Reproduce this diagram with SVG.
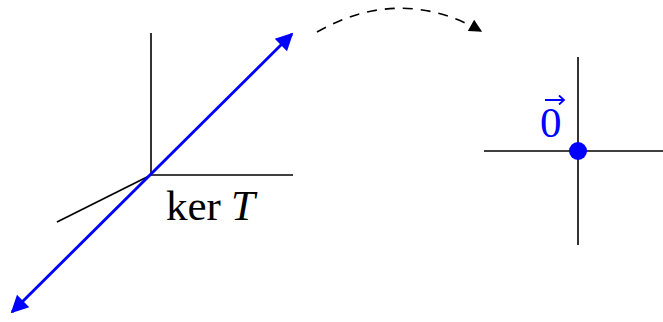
<svg xmlns="http://www.w3.org/2000/svg" width="663" height="322" viewBox="0 0 663 322">
<style>
.ax{stroke:#000;stroke-width:1.6;fill:none}
.blue{stroke:#0000ff;stroke-width:2.9;fill:none}
.lbl{font-family:"Liberation Serif","DejaVu Serif",serif;font-size:43px}
</style>
<defs>
<marker id="bh" viewBox="0 0 10 10" refX="9" refY="5" markerWidth="7.2" markerHeight="6" markerUnits="strokeWidth" orient="auto-start-reverse">
<path d="M0,0 L10,5 L0,10 Z" fill="#0000ff"/>
</marker>
<marker id="kh" viewBox="0 0 10 10" refX="9" refY="5" markerWidth="10" markerHeight="8" markerUnits="strokeWidth" orient="auto">
<path d="M0,0 L10,5 L0,10 Z" fill="#000"/>
</marker>
</defs>
<g id="domain">
<line class="ax" x1="151" y1="33" x2="151" y2="175"/>
<line class="ax" x1="151" y1="175" x2="293" y2="175"/>
<line class="ax" x1="57" y1="222" x2="151" y2="175"/>
<text class="lbl" x="166" y="220">ker<tspan x="231" font-style="italic">T</tspan></text>
</g>
<g id="kernel">
<line class="blue" x1="12" y1="312" x2="292" y2="34" marker-start="url(#bh)" marker-end="url(#bh)"/>
</g>
<g id="codomain">
<line class="ax" x1="484" y1="151" x2="663" y2="151"/>
<line class="ax" x1="578" y1="57" x2="578" y2="245"/>
<circle cx="578" cy="151" r="9" fill="#0000ff"/>
<text class="lbl" x="540" y="137" fill="#0000ff" font-size="45">0</text>
<path d="M545,100 L564,100 M559,95.5 L564,100 L559,104.5" stroke="#0000ff" stroke-width="1.8" fill="none"/>
</g>
<g id="connectors">
<path class="ax" d="M317,32 Q400,-15 481,31" stroke-width="1.8" stroke-dasharray="10,8" marker-end="url(#kh)"/>
</g>
</svg>
